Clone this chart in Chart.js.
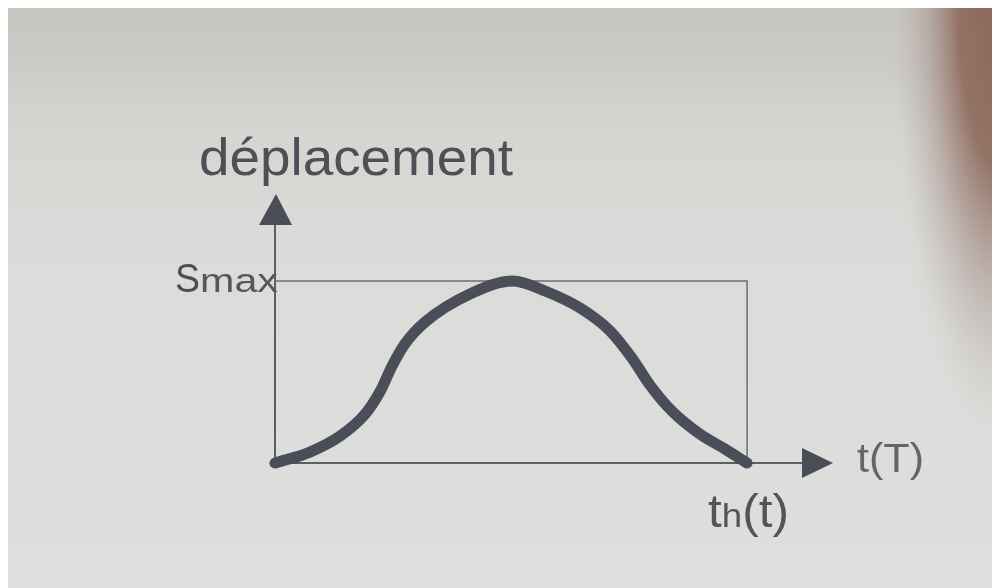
<!DOCTYPE html>
<html lang="fr">
<head>
<meta charset="utf-8">
<title>déplacement</title>
<script src="https://cdn.jsdelivr.net/npm/chart.js@4/dist/chart.umd.min.js"></script>
<style>
  html, body { margin: 0; padding: 0; background: #ffffff; }
  #wrap { width: 992px; height: 588px; }
  canvas { display: block; filter: blur(0.5px); }
</style>
</head>
<body>
<div id="wrap"><canvas id="chart" width="992" height="588"></canvas></div>
<script>
// Displacement profile over one stroke, time and displacement as fractions of th and Smax
const timeValues = [0, 0.074, 0.138, 0.191, 0.222, 0.248, 0.275, 0.318, 0.413, 0.504,
                    0.572, 0.646, 0.710, 0.756, 0.794, 0.841, 0.900, 0.953, 1.0];
const displacementValues = [0, 0.060, 0.148, 0.269, 0.390, 0.533, 0.654, 0.775, 0.929, 1.0,
                            0.945, 0.852, 0.725, 0.577, 0.429, 0.285, 0.159, 0.077, 0];

// Frame drawn at Smax and th
const frameTime = [0, 1, 1];
const frameDisplacement = [1, 1, 0];

// Marked values on each axis and their labels
const yTickValues = [1];
const yTickLabels = [['S', 'max']];
const xTickValues = [1];
const xTickLabels = [['t', 'h', '(t)']];

// Axis extents (arrow tips) and axis names
const axisXMax = 1.182;
const axisYMax = 1.478;
const xAxisName = 't(T)';
const yAxisName = 'déplacement';

const ink = '#4b4d58';
const thinInk = '#6c6d72';
const textInk = '#4f5057';
const FONT = '"Liberation Sans", Arial, sans-serif';

const curve = timeValues.map((t, i) => ({ x: t, y: displacementValues[i] }));
const frame = frameTime.map((t, i) => ({ x: t, y: frameDisplacement[i] }));

// Paper background of the print
const paperPlugin = {
  id: 'paper',
  beforeDraw(chart) {
    const ctx = chart.ctx;
    const W = chart.width, H = chart.height;
    ctx.save();
    ctx.fillStyle = '#ffffff';
    ctx.fillRect(0, 0, W, H);
    const g = ctx.createLinearGradient(0, 8, 0, H);
    g.addColorStop(0, '#c6c5c0');
    g.addColorStop(0.09, '#cbcac6');
    g.addColorStop(0.22, '#d5d6d2');
    g.addColorStop(0.42, '#dbdcd9');
    g.addColorStop(1, '#dddfdc');
    ctx.fillStyle = g;
    ctx.fillRect(8, 8, W - 8, H - 8);
    // brownish shade along the upper right edge
    ctx.save();
    ctx.beginPath();
    ctx.rect(8, 8, W - 8, H - 8);
    ctx.clip();
    ctx.translate(1000, 0);
    ctx.scale(1, 4.0);
    const r = ctx.createRadialGradient(0, 0, 0, 0, 0, 110);
    r.addColorStop(0, 'rgba(138,102,86,1)');
    r.addColorStop(0.38, 'rgba(144,110,96,0.95)');
    r.addColorStop(0.6, 'rgba(165,142,134,0.65)');
    r.addColorStop(0.82, 'rgba(182,170,165,0.3)');
    r.addColorStop(1, 'rgba(195,190,186,0)');
    ctx.fillStyle = r;
    ctx.beginPath();
    ctx.arc(0, 0, 110, 0, Math.PI * 2);
    ctx.fill();
    ctx.restore();
    ctx.restore();
  }
};

// Draws a run of [text, fontSize] pieces, stretched to a given width
function drawPieces(ctx, pieces, x, baseline, width) {
  let total = 0;
  pieces.forEach(p => { ctx.font = p[1] + 'px ' + FONT; total += ctx.measureText(p[0]).width; });
  ctx.save();
  ctx.translate(x, baseline);
  ctx.scale(width / total, 1);
  let cx = 0;
  pieces.forEach(p => {
    ctx.font = p[1] + 'px ' + FONT;
    ctx.fillText(p[0], cx, 0);
    cx += ctx.measureText(p[0]).width;
  });
  ctx.restore();
}

// Axes with arrowheads, axis names and marked values
const axesPlugin = {
  id: 'arrowAxes',
  beforeDatasetsDraw(chart) {
    const ctx = chart.ctx;
    const xs = chart.scales.x, ys = chart.scales.y;
    const x0 = xs.getPixelForValue(0), y0 = ys.getPixelForValue(0);
    const xTip = xs.getPixelForValue(axisXMax), yTip = ys.getPixelForValue(axisYMax);
    const head = 31, half = 16;
    ctx.save();
    ctx.strokeStyle = '#5e5f66';
    ctx.lineWidth = 2;
    ctx.beginPath();
    ctx.moveTo(x0, y0);
    ctx.lineTo(x0, yTip + head);
    ctx.moveTo(x0, y0);
    ctx.lineTo(xTip - head, y0);
    ctx.stroke();
    ctx.fillStyle = '#4a4c56';
    ctx.beginPath();
    ctx.moveTo(x0 + 1, yTip);
    ctx.lineTo(x0 - half, yTip + head);
    ctx.lineTo(x0 + half + 1, yTip + head);
    ctx.closePath();
    ctx.fill();
    ctx.beginPath();
    ctx.moveTo(xTip, y0);
    ctx.lineTo(xTip - head, y0 - 15);
    ctx.lineTo(xTip - head, y0 + 15);
    ctx.closePath();
    ctx.fill();
    ctx.restore();
  },
  afterDraw(chart) {
    const ctx = chart.ctx;
    const xs = chart.scales.x, ys = chart.scales.y;
    const x0 = xs.getPixelForValue(0), y0 = ys.getPixelForValue(0);
    const xTip = xs.getPixelForValue(axisXMax), yTip = ys.getPixelForValue(axisYMax);
    ctx.save();
    ctx.textBaseline = 'alphabetic';
    ctx.textAlign = 'left';
    // y axis name above the arrow
    ctx.fillStyle = textInk;
    drawPieces(ctx, [[yAxisName, 52]], x0 - 76, yTip - 19, 314);
    // x axis name right of the arrow
    ctx.fillStyle = '#63656b';
    drawPieces(ctx, [[xAxisName, 41]], xTip + 24, y0 + 9, 67);
    // marked displacement
    yTickValues.forEach((v, i) => {
      const py = ys.getPixelForValue(v);
      const lab = yTickLabels[i];
      ctx.fillStyle = '#4d4f55';
      drawPieces(ctx, [[lab[0], 40]], x0 - 100, py + 11, 25);
      ctx.fillStyle = '#55575d';
      drawPieces(ctx, [[lab[1], 33]], x0 - 75, py + 11, 78);
    });
    // marked time
    xTickValues.forEach((v, i) => {
      const px = xs.getPixelForValue(v);
      const lab = xTickLabels[i];
      ctx.fillStyle = '#52545a';
      drawPieces(ctx, [[lab[0], 46], [lab[1], 34], [lab[2], 46]], px - 39, y0 + 64, 81);
    });
    ctx.restore();
  }
};

new Chart(document.getElementById('chart'), {
  type: 'line',
  data: {
    datasets: [
      {
        label: 'Smax / th',
        data: frame,
        borderColor: thinInk,
        borderWidth: 1.5,
        pointRadius: 0,
        tension: 0,
        fill: false,
        clip: false,
        order: 2
      },
      {
        label: yAxisName,
        data: curve,
        borderColor: ink,
        borderWidth: 11,
        borderCapStyle: 'round',
        borderJoinStyle: 'round',
        pointRadius: 0,
        cubicInterpolationMode: 'monotone',
        fill: false,
        clip: false,
        order: 1
      }
    ]
  },
  options: {
    responsive: false,
    animation: false,
    devicePixelRatio: 1,
    layout: { padding: { left: 275, right: 159, top: 194, bottom: 125 } },
    plugins: { legend: { display: false }, tooltip: { enabled: false }, title: { display: false } },
    scales: {
      x: { type: 'linear', min: 0, max: axisXMax, display: false },
      y: { type: 'linear', min: 0, max: axisYMax, display: false }
    }
  },
  plugins: [paperPlugin, axesPlugin]
});
</script>
</body>
</html>
